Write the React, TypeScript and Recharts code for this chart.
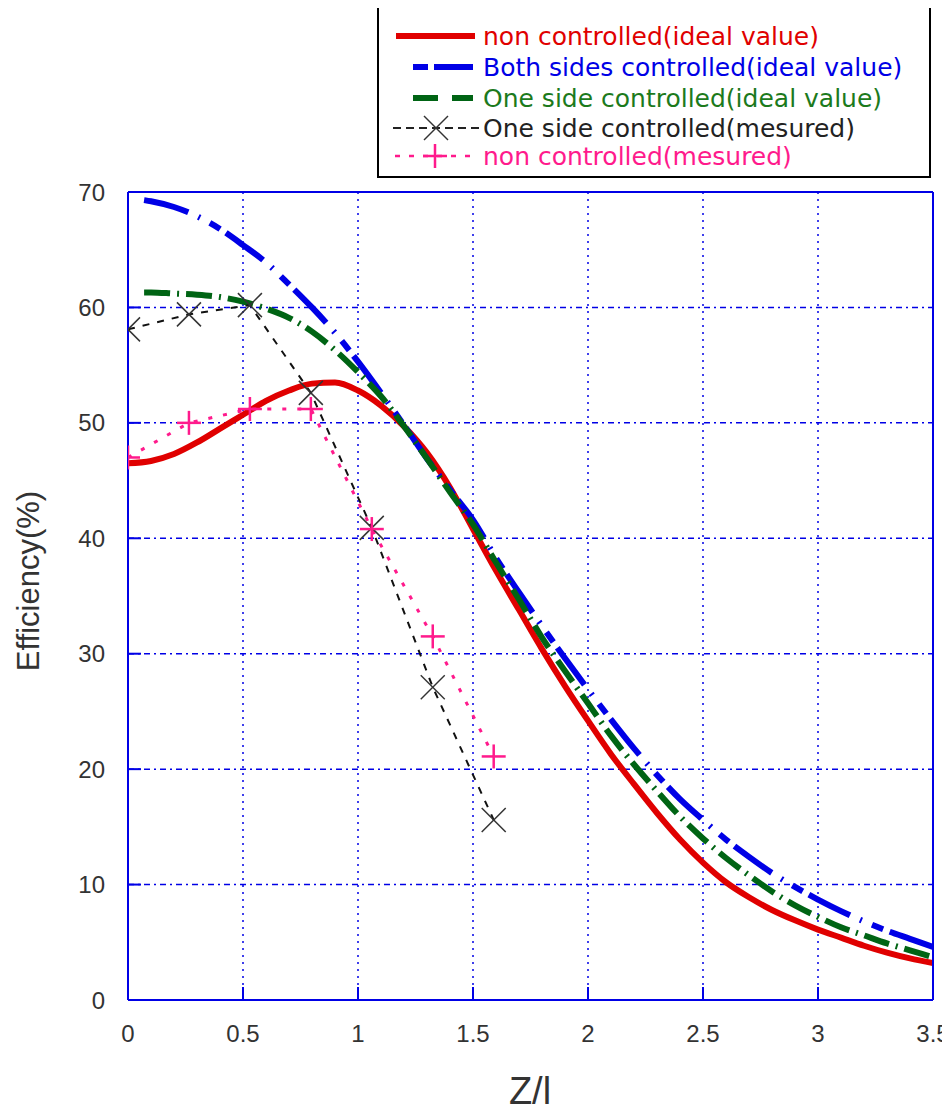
import { LineChart, Line, XAxis, YAxis, CartesianGrid } from "recharts";

// x positions (Z/l)
const zIdeal = [
  0, 0.1, 0.2, 0.3, 0.4, 0.5, 0.6, 0.7, 0.8, 0.9, 1.0, 1.1, 1.2, 1.3, 1.4, 1.5, 1.6, 1.7,
  1.8, 1.9, 2.0, 2.1, 2.2, 2.3, 2.4, 2.5, 2.6, 2.7, 2.8, 2.9, 3.0, 3.1, 3.2, 3.3, 3.4, 3.5,
];
const zCtrl = [
  0.07, 0.1, 0.2, 0.3, 0.4, 0.5, 0.6, 0.7, 0.8, 0.9, 1.0, 1.1, 1.2, 1.3, 1.4, 1.5, 1.6, 1.7,
  1.8, 1.9, 2.0, 2.1, 2.2, 2.3, 2.4, 2.5, 2.6, 2.7, 2.8, 2.9, 3.0, 3.1, 3.2, 3.3, 3.4, 3.5,
];
const zMeasured = [0, 0.265, 0.53, 0.795, 1.06, 1.325, 1.59];

// efficiency (%)
const nonCtrlIdeal = [
  46.5, 46.7, 47.3, 48.3, 49.5, 50.7, 51.9, 52.8, 53.4, 53.5, 52.8, 51.5, 49.7, 47.4, 44.4,
  40.8, 37.2, 33.8, 30.4, 27.2, 24.2, 21.3, 18.7, 16.2, 13.9, 11.9, 10.2, 8.9, 7.8, 6.9, 6.1,
  5.4, 4.7, 4.1, 3.6, 3.2,
];
const bothSidesIdeal = [
  69.3, 69.2, 68.7, 67.9, 66.8, 65.4, 63.9, 62.0, 60.0, 57.8, 55.3, 52.6, 49.8, 46.9, 44.2,
  41.6, 38.3, 35.3, 32.4, 29.6, 26.9, 24.3, 21.8, 19.5, 17.4, 15.6, 13.9, 12.4, 11.0, 9.8, 8.7,
  7.7, 6.8, 6.0, 5.3, 4.6,
];
const oneSideIdeal = [
  61.3, 61.3, 61.2, 61.1, 60.9, 60.5, 59.9, 59.1, 57.9, 56.3, 54.4, 52.3, 49.7, 46.9, 44.0,
  41.2, 37.9, 34.7, 31.4, 28.5, 25.7, 22.9, 20.4, 18.1, 15.9, 14.0, 12.3, 10.8, 9.4, 8.2, 7.2,
  6.3, 5.6, 4.9, 4.3, 3.7,
];
const oneSideMeasured = [58.1, 59.4, 60.2, 52.6, 40.9, 27.1, 15.6];
const nonCtrlMeasured = [47.0, 50.0, 51.2, 51.2, 40.8, 31.5, 21.1];

const xTicks = [0, 0.5, 1, 1.5, 2, 2.5, 3, 3.5];
const yTicks = [0, 10, 20, 30, 40, 50, 60, 70];

const toRows = (xs: number[], ys: number[]) => xs.map((z, i) => ({ z, v: ys[i] }));

const BLUE = "#0000e6";
const RED = "#e00000";
const GREEN = "#006414";
const PINK = "#ff1a8c";
const TICK_FONT = { fill: "#333", fontSize: 24, fontFamily: "Liberation Sans, Arial, sans-serif" };

const Cross = (props: any) => {
  const { cx, cy } = props;
  if (cx == null || cy == null) return null;
  return (
    <g>
      <line x1={cx - 12} y1={cy - 12} x2={cx + 12} y2={cy + 12} stroke="#333" strokeWidth={1.5} />
      <line x1={cx - 12} y1={cy + 12} x2={cx + 12} y2={cy - 12} stroke="#333" strokeWidth={1.5} />
    </g>
  );
};

const Plus = (props: any) => {
  const { cx, cy } = props;
  if (cx == null || cy == null) return null;
  return (
    <g>
      <line x1={cx - 12} y1={cy} x2={cx + 12} y2={cy} stroke={PINK} strokeWidth={2.5} />
      <line x1={cx} y1={cy - 12} x2={cx} y2={cy + 12} stroke={PINK} strokeWidth={2.5} />
    </g>
  );
};

const YLabel = () => (
  <text
    x={20}
    y={573}
    transform="rotate(-90, 20, 573)"
    textAnchor="middle"
    dominantBaseline="central"
    fill="#333"
    fontSize={31}
    fontFamily="Liberation Sans, Arial, sans-serif"
  >
    Efficiency(%)
  </text>
);

const XLabel = () => (
  <text x={522} y={1096} textAnchor="middle" fill="#333" fontSize={38} fontFamily="Liberation Sans, Arial, sans-serif">
    Z/l
  </text>
);

const LegendBox = () => {
  const font = { fontSize: 25, fontFamily: "DejaVu Sans, sans-serif" };
  const rows = [31, 62, 93, 123, 151];
  const tx = 104;
  return (
    <div
      style={{
        position: "absolute",
        left: 369,
        top: -5,
        width: 554,
        height: 175,
        border: "2px solid #000",
        boxSizing: "border-box",
        background: "#fff",
      }}
    >
      <svg width={550} height={171} style={{ display: "block" }}>
        <line x1={17} y1={rows[0]} x2={96} y2={rows[0]} stroke={RED} strokeWidth={6} />
        <text x={tx} y={rows[0]} dominantBaseline="central" fill={RED} {...font}>non controlled(ideal value)</text>

        <line x1={34} y1={rows[1]} x2={49} y2={rows[1]} stroke={BLUE} strokeWidth={6} />
        <line x1={55} y1={rows[1]} x2={94} y2={rows[1]} stroke={BLUE} strokeWidth={6} />
        <text x={tx} y={rows[1]} dominantBaseline="central" fill={BLUE} {...font}>Both sides controlled(ideal value)</text>

        <line x1={34} y1={rows[2]} x2={59} y2={rows[2]} stroke={GREEN} strokeWidth={6} />
        <line x1={73} y1={rows[2]} x2={94} y2={rows[2]} stroke={GREEN} strokeWidth={6} />
        <text x={tx} y={rows[2]} dominantBaseline="central" fill="#1c7a1c" {...font}>One side controlled(ideal value)</text>

        <line x1={14} y1={rows[3]} x2={100} y2={rows[3]} stroke="#222" strokeWidth={2} strokeDasharray="8 5" />
        <Cross cx={57} cy={rows[3]} />
        <text x={tx} y={rows[3]} dominantBaseline="central" fill="#222" {...font}>One side controlled(mesured)</text>

        <line x1={16} y1={rows[4]} x2={92} y2={rows[4]} stroke={PINK} strokeWidth={2.5} strokeDasharray="5 9" />
        <Plus cx={56} cy={rows[4]} />
        <text x={tx} y={rows[4]} dominantBaseline="central" fill={PINK} {...font}>non controlled(mesured)</text>
      </svg>
    </div>
  );
};

const App = () => {
  const axisLine = { stroke: BLUE, strokeWidth: 2 };
  return (
    <div style={{ width: 942, height: 1103, position: "relative", background: "#fff" }}>
      <LineChart width={942} height={1103} margin={{ top: 0, right: 0, bottom: 0, left: 0 }}>
        <CartesianGrid vertical={false} stroke={BLUE} strokeWidth={1.5} strokeDasharray="6 4 2 4" />
        <CartesianGrid horizontal={false} stroke={BLUE} strokeWidth={1.5} strokeDasharray="2 5" />
        <XAxis
          dataKey="z"
          type="number"
          domain={[0, 3.5]}
          ticks={xTicks}
          interval={0}
          allowDataOverflow
          height={111}
          tickSize={-13}
          tickMargin={38}
          axisLine={axisLine}
          tickLine={axisLine}
          tick={TICK_FONT}
          label={<XLabel />}
        />
        <XAxis
          xAxisId="top"
          orientation="top"
          dataKey="z"
          type="number"
          domain={[0, 3.5]}
          ticks={xTicks}
          interval={0}
          allowDataOverflow
          height={184}
          tickSize={-13}
          axisLine={axisLine}
          tickLine={axisLine}
          tick={false}
        />
        <YAxis
          type="number"
          domain={[0, 70]}
          ticks={yTicks}
          interval={0}
          allowDataOverflow
          width={120}
          tickSize={-13}
          tickMargin={36}
          axisLine={axisLine}
          tickLine={axisLine}
          tick={TICK_FONT}
          label={<YLabel />}
        />
        <YAxis
          yAxisId="right"
          orientation="right"
          type="number"
          domain={[0, 70]}
          ticks={yTicks}
          interval={0}
          allowDataOverflow
          width={17}
          tickSize={-13}
          axisLine={axisLine}
          tickLine={axisLine}
          tick={false}
        />
        <Line
          data={toRows(zIdeal, nonCtrlIdeal)}
          dataKey="v"
          name="non controlled(ideal value)"
          type="monotone"
          stroke={RED}
          strokeWidth={6}
          dot={false}
          isAnimationActive={false}
        />
        <Line
          data={toRows(zCtrl, bothSidesIdeal)}
          dataKey="v"
          name="Both sides controlled(ideal value)"
          type="monotone"
          stroke={BLUE}
          strokeWidth={6}
          strokeDasharray="46 11 2 11 12 7"
          dot={false}
          isAnimationActive={false}
        />
        <Line
          data={toRows(zCtrl, oneSideIdeal)}
          dataKey="v"
          name="One side controlled(ideal value)"
          type="monotone"
          stroke={GREEN}
          strokeWidth={6}
          strokeDasharray="26 7 2 7"
          dot={false}
          isAnimationActive={false}
        />
        <Line
          data={toRows(zMeasured, oneSideMeasured)}
          dataKey="v"
          name="One side controlled(mesured)"
          type="linear"
          stroke="#111"
          strokeWidth={2}
          strokeDasharray="7 8"
          dot={<Cross />}
          isAnimationActive={false}
        />
        <Line
          data={toRows(zMeasured, nonCtrlMeasured)}
          dataKey="v"
          name="non controlled(mesured)"
          type="linear"
          stroke={PINK}
          strokeWidth={3}
          strokeDasharray="4 11"
          dot={<Plus />}
          isAnimationActive={false}
        />
      </LineChart>
      <LegendBox />
    </div>
  );
};

export default App;
